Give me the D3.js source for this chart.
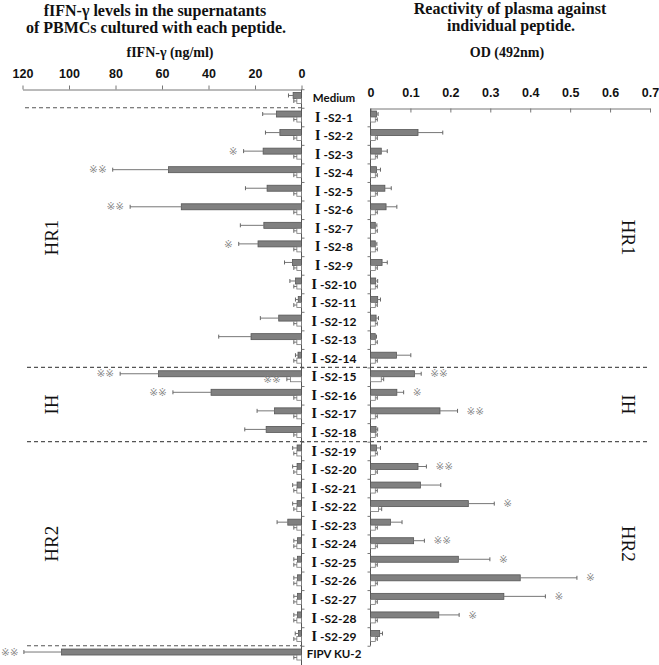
<!DOCTYPE html>
<html><head><meta charset="utf-8">
<script src="https://cdn.jsdelivr.net/npm/d3@7"></script>
<style>body{margin:0;background:#fff}svg{display:block}</style>
</head><body>
<svg id="c" width="659" height="665"></svg>
<script>
// ---- data ----
const categories = ["Medium","I -S2-1","I -S2-2","I -S2-3","I -S2-4","I -S2-5","I -S2-6","I -S2-7","I -S2-8","I -S2-9","I -S2-10",
  "I -S2-11","I -S2-12","I -S2-13","I -S2-14","I -S2-15","I -S2-16","I -S2-17","I -S2-18","I -S2-19","I -S2-20",
  "I -S2-21","I -S2-22","I -S2-23","I -S2-24","I -S2-25","I -S2-26","I -S2-27","I -S2-28","I -S2-29","FIPV KU-2"];
// fIFN-γ (ng/ml), peptide-stimulated (grey) and control (white)
const ifnMean = [3.6,10.8,9.3,16.5,57.2,14.8,51.7,16.2,18.7,3.9,2.6,1.4,9.8,21.7,1.5,61.5,38.9,11.6,15.2,1.9,1.9,1.9,1.9,5.9,1.7,1.7,1.7,1.7,1.7,1.3,103.2];
const ifnSD   = [2.0,5.9,6.2,8.4,24.0,9.3,22.0,10.1,8.3,3.4,2.4,1.2,7.9,13.9,1.1,16.5,16.4,7.5,9.2,1.9,1.9,1.9,1.9,4.6,1.6,1.6,1.6,1.6,1.6,1.4,16.2];
const ifnCtrl   = [2.0,2.0,2.0,2.0,2.0,2.0,2.0,2.0,2.0,2.0,2.0,2.0,2.0,2.0,2.0,4.7,2.0,2.0,2.0,2.0,2.0,2.0,2.0,2.0,2.0,2.0,2.0,2.0,2.0,2.0,2.0];
const ifnCtrlSD = [1.3,1.3,1.3,1.3,1.3,1.3,1.3,1.3,1.3,1.3,1.3,1.3,1.3,1.3,1.3,1.6,1.3,1.3,1.3,1.3,1.3,1.3,1.3,1.3,1.3,1.3,1.3,1.3,1.3,1.3,1.3];
// OD (492nm)
const odMean = [null,0.015,0.119,0.027,0.015,0.036,0.039,0.012,0.012,0.029,0.013,0.018,0.014,0.012,0.065,0.110,0.066,0.174,0.014,0.015,0.119,0.125,0.245,0.050,0.108,0.220,0.375,0.334,0.171,0.023,null];
const odSD   = [null,0.004,0.062,0.015,0.010,0.016,0.027,0.004,0.004,0.013,0.005,0.007,0.006,0.003,0.036,0.017,0.017,0.044,0.004,0.010,0.021,0.051,0.065,0.029,0.027,0.079,0.142,0.104,0.051,0.007,null];
const odCtrl   = [null,0.012,0.012,0.012,0.012,0.012,0.012,0.012,0.012,0.012,0.012,0.012,0.012,0.012,0.012,0.027,0.012,0.012,0.012,0.012,0.012,0.012,0.020,0.012,0.012,0.012,0.012,0.012,0.012,0.012,null];
const odCtrlSD = [null,0.005,0.005,0.005,0.005,0.005,0.005,0.005,0.005,0.005,0.005,0.005,0.005,0.005,0.005,0.006,0.005,0.005,0.005,0.005,0.005,0.005,0.008,0.005,0.005,0.005,0.005,0.005,0.005,0.005,null];
const leftTicks = [0,20,40,60,80,100,120];
const rightTicks = [0,0.1,0.2,0.3,0.4,0.5,0.6,0.7];
// significance marks: [category index, series, text]
const ifnMarks = [[3,"main","※"],[4,"main","※※"],[6,"main","※※"],[8,"main","※"],[15,"main","※※"],[15,"ctrl","※※"],[16,"main","※※"],[30,"main","※※"]];
const odMarks = [[15,"main","※※"],[16,"main","※"],[17,"main","※※"],[20,"main","※※"],[22,"main","※"],[24,"main","※※"],[25,"main","※"],[26,"main","※"],[27,"main","※"],[28,"main","※"]];
const regions = [["HR1",1,14],["IH",15,18],["HR2",19,29]];

// ---- drawing ----
const svg = d3.select("#c");
const xL = d3.scaleLinear().domain([0,120]).range([301.5,22.5]);
const xR = d3.scaleLinear().domain([0,0.7]).range([370.5,650]);
const y = d3.scaleBand().domain(categories).range([89.2,664.3]);
const bw = y.bandwidth();
const cy = i => y(categories[i]) + bw/2;
const serif = "'Liberation Serif','Times New Roman',serif";
const sans = "'Liberation Sans',Arial,sans-serif";

// titles
const t = svg.append("g").attr("font-family",serif).attr("font-weight","bold").attr("text-anchor","middle").attr("fill","#111");
t.append("text").attr("x",155).attr("y",16).attr("font-size",16).text("fIFN-γ levels in the supernatants");
t.append("text").attr("x",156).attr("y",33).attr("font-size",16).text("of PBMCs cultured with each peptide.");
t.append("text").attr("x",170).attr("y",57).attr("font-size",14).text("fIFN-γ (ng/ml)");
t.append("text").attr("x",510).attr("y",14).attr("font-size",16).text("Reactivity of plasma against");
t.append("text").attr("x",511).attr("y",31).attr("font-size",16).text("individual peptide.");
t.append("text").attr("x",507).attr("y",57).attr("font-size",14).text("OD (492nm)");

// top axes
const axL = svg.append("g").attr("transform","translate(0,89.5)")
  .call(d3.axisTop(xL).tickValues(leftTicks).tickSizeInner(4).tickSizeOuter(0).tickPadding(8).tickFormat(d3.format("d")));
const axR = svg.append("g").attr("transform","translate(0,108.5)")
  .call(d3.axisTop(xR).tickValues(rightTicks).tickSizeInner(-4).tickSizeOuter(0).tickFormat(d3.format("~g")));
axR.selectAll(".tick text").attr("y",-11.5);
[axL,axR].forEach(a=>{
  a.selectAll("path,line").attr("stroke","#777");
  a.selectAll("text").attr("font-family",sans).attr("font-size",12.5).attr("font-weight","bold").attr("fill","#111");
});

// vertical category axes
svg.append("line").attr("x1",xL(0)).attr("x2",xL(0)).attr("y1",89.5).attr("y2",665).attr("stroke","#555");
svg.append("line").attr("x1",xR(0)).attr("x2",xR(0)).attr("y1",108.5).attr("y2",y(categories[30])).attr("stroke","#555");
categories.forEach((c,i)=>{
  svg.append("line").attr("x1",xL(0)).attr("x2",xL(0)+3).attr("y1",y(c)+0.5).attr("y2",y(c)+0.5).attr("stroke","#777");
  if(i>=1 && i<=29) svg.append("line").attr("x1",xR(0)-3).attr("x2",xR(0)).attr("y1",y(c)+bw+0.5).attr("y2",y(c)+bw+0.5).attr("stroke","#777");
});

// dashed separators
const dash = (x1,x2,yy)=>svg.append("line").attr("x1",x1).attr("x2",x2).attr("y1",yy).attr("y2",yy)
  .attr("stroke","#555").attr("stroke-width",1.2).attr("stroke-dasharray","4,3");
dash(25,301,y(categories[1]));
dash(27,648,y(categories[15]));
dash(27,648,y(categories[19]));
dash(27,301,y(categories[30]));

// bars
function drawBars(x, means, sds, ctrl, ctrlSD){
  const g = svg.append("g");
  categories.forEach((c,i)=>{
    const c0 = cy(i);
    [[means[i],sds[i],c0-6,6,"#808080","#555"],[ctrl[i],ctrlSD[i],c0,5,"#fff","#777"]].forEach(([m,s,top,h,fill,stroke])=>{
      if(m==null) return;
      const x0 = x(0), x1 = x(m), xe = x(m+s);
      g.append("rect").attr("x",Math.min(x0,x1)).attr("y",top).attr("width",Math.abs(x1-x0)).attr("height",h)
        .attr("fill",fill).attr("stroke",stroke).attr("stroke-width",0.8);
      const ym = top + h/2;
      g.append("line").attr("x1",x1).attr("x2",xe).attr("y1",ym).attr("y2",ym).attr("stroke","#777");
      g.append("line").attr("x1",xe).attr("x2",xe).attr("y1",ym-2).attr("y2",ym+2).attr("stroke","#666");
    });
  });
}
drawBars(xL, ifnMean, ifnSD, ifnCtrl, ifnCtrlSD);
drawBars(xR, odMean, odSD, odCtrl, odCtrlSD);

// significance marks
const markFont = "'DejaVu Sans',sans-serif";
ifnMarks.forEach(([i,s,txt])=>{
  const main = s==="main";
  const end = main ? xL(ifnMean[i]+ifnSD[i]) : xL(ifnCtrl[i]+ifnCtrlSD[i]);
  svg.append("text").attr("x",Math.max(end-6, 18.5)).attr("y",main?cy(i)-3:cy(i)+3).attr("dy","0.35em")
    .attr("text-anchor","end").attr("font-family",markFont).attr("font-size",10.5).attr("fill","#8a8a8a").text(txt);
});
odMarks.forEach(([i,s,txt])=>{
  const end = xR(odMean[i]+odSD[i]);
  svg.append("text").attr("x",end+9).attr("y",cy(i)-3).attr("dy","0.35em")
    .attr("text-anchor","start").attr("font-family",markFont).attr("font-size",10.5).attr("fill","#8a8a8a").text(txt);
});

// category labels
categories.forEach((c,i)=>{
  const tx = svg.append("text").attr("x",334).attr("y",cy(i)-1).attr("dy","0.35em").attr("text-anchor","middle")
    .attr("font-weight","bold").attr("fill","#111");
  if(c.startsWith("I -")){
    tx.append("tspan").attr("font-family",serif).attr("font-size",14).text("I");
    tx.append("tspan").attr("font-family","Lato,'Open Sans',sans-serif").attr("font-size",12).text(" " + c.slice(2));
  } else {
    tx.attr("font-family","Lato,'Open Sans',sans-serif").attr("font-size",11.5).text(c);
  }
});

// region labels
regions.forEach(([name,a,b])=>{
  const ym = (y(categories[a]) + y(categories[b]) + bw)/2;
  svg.append("text").attr("transform",`translate(58,${ym}) rotate(-90)`).attr("text-anchor","middle")
    .attr("font-family",serif).attr("font-size",19).attr("fill","#111").text(name);
  svg.append("text").attr("transform",`translate(622,${ym}) rotate(90)`).attr("text-anchor","middle")
    .attr("font-family",serif).attr("font-size",19).attr("fill","#111").text(name);
});
</script>
</body></html>
